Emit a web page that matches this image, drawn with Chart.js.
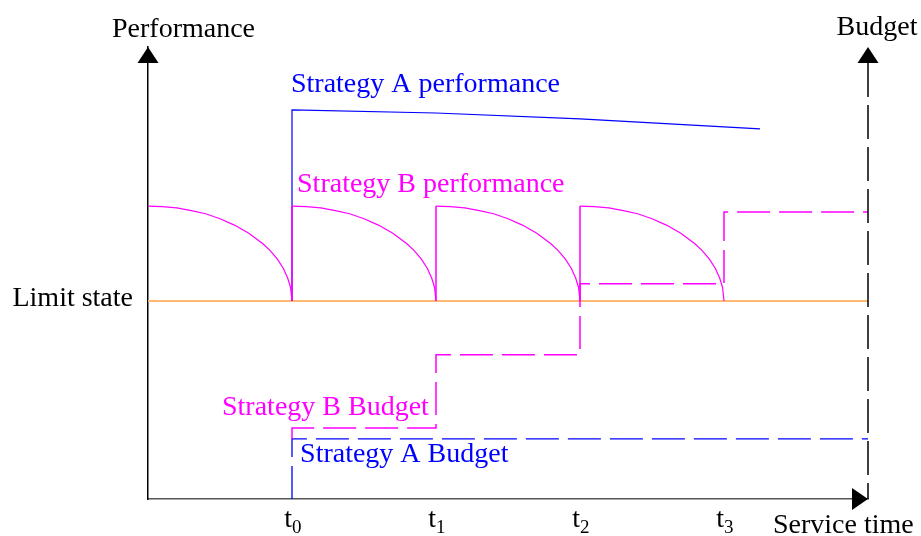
<!DOCTYPE html>
<html>
<head>
<meta charset="utf-8">
<script src="https://cdn.jsdelivr.net/npm/chart.js@4.4.1/dist/chart.umd.min.js"></script>
<style>
html,body{margin:0;padding:0;background:#fff;}
canvas{display:block;}
</style>
</head>
<body>
<canvas id="c" width="921" height="536"></canvas>
<script>
// ---- data ----
const tickValues = [1, 2, 3, 4];
const tickSubs = ['0', '1', '2', '3'];
const tickBase = 't';

const limitX = [0, 5];
const limitY = [43.8, 43.8];

const perfAX = [1, 1, 2, 3, 4.25];
const perfAY = [43.8, 86.1, 85.4, 84.1, 81.9];

const arc0X = [0, 0.1, 0.2, 0.3, 0.4, 0.5, 0.6, 0.7, 0.8, 0.85, 0.9, 0.94, 0.97, 0.99, 1];
const arc1X = [1, 1.1, 1.2, 1.3, 1.4, 1.5, 1.6, 1.7, 1.8, 1.85, 1.9, 1.94, 1.97, 1.99, 2];
const arc2X = [2, 2.1, 2.2, 2.3, 2.4, 2.5, 2.6, 2.7, 2.8, 2.85, 2.9, 2.94, 2.97, 2.99, 3];
const arc3X = [3, 3.1, 3.2, 3.3, 3.4, 3.5, 3.6, 3.7, 3.8, 3.85, 3.9, 3.94, 3.97, 3.99, 4];
const arcY  = [64.8, 64.7, 64.4, 63.8, 63.1, 62.0, 60.6, 58.8, 56.4, 54.9, 53.0, 51.0, 48.9, 46.8, 43.8];

const jumpX = [1, 1, 1, 2, 2, 2, 3, 3];
const jumpY = [43.8, 64.8, null, 43.8, 64.8, null, 43.8, 64.8];

const budgetAX = [1, 1, 5];
const budgetAY = [0, 13.3, 13.3];

const budgetBX = [1, 1, 2, 2, 3, 3, 4, 4, 5];
const budgetBY = [13.3, 15.7, 15.7, 31.9, 31.9, 47.6, 47.6, 63.5, 63.5];

// ---- helpers ----
const pts = (xs, ys) => xs.map((x, i) => ({x: x, y: ys[i]}));
const BLUE = '#0000FF', MAG = '#FF00FF', ORANGE = '#FFB870';
const FONT = '28px "Liberation Serif", "Times New Roman", serif';
const SUBFONT = '19px "Liberation Serif", "Times New Roman", serif';

const annotations = [
  {text: 'Strategy A performance', x: 0.993, y: 90.0, color: BLUE},
  {text: 'Strategy B performance', x: 1.035, y: 67.9, color: MAG},
  {text: 'Strategy B Budget', x: 0.514, y: 18.6, color: MAG},
  {text: 'Strategy A Budget', x: 1.056, y: 8.2, color: BLUE}
];

const decor = {
  id: 'decor',
  afterDraw(chart) {
    const ctx = chart.ctx;
    const xs = chart.scales.x, ys = chart.scales.y, y2 = chart.scales.y2;
    const L = xs.left, R = xs.right, T = ys.top, B = ys.bottom;
    ctx.save();
    // dashed budget axis on the right (y2 scale position)
    ctx.strokeStyle = '#000';
    ctx.lineWidth = 1.5;
    ctx.setLineDash([34, 8]);
    ctx.beginPath();
    ctx.moveTo(y2.left, y2.top + 16);
    ctx.lineTo(y2.left, y2.bottom);
    ctx.stroke();
    ctx.setLineDash([]);

    ctx.fillStyle = '#000';
    // arrowheads
    const up = (cx, tip) => {
      ctx.beginPath();
      ctx.moveTo(cx, tip);
      ctx.lineTo(cx - 10.5, tip + 16);
      ctx.lineTo(cx + 10.5, tip + 16);
      ctx.closePath();
      ctx.fill();
    };
    up(L, T);
    up(y2.left, y2.top);
    ctx.beginPath();
    ctx.moveTo(R, B);
    ctx.lineTo(R - 16, B - 11);
    ctx.lineTo(R - 16, B + 11);
    ctx.closePath();
    ctx.fill();

    // axis titles
    ctx.font = FONT;
    ctx.textBaseline = 'alphabetic';
    ctx.fillStyle = '#000';
    ctx.textAlign = 'left';
    ctx.fillText('Performance', L - 36, T - 10);
    ctx.textAlign = 'center';
    ctx.fillText('Budget', R + 9, T - 12);
    ctx.textAlign = 'left';
    ctx.fillText('Service time', R - 95, B + 34);
    ctx.textAlign = 'right';
    ctx.fillText('Limit state', L - 15, ys.getPixelForValue(limitY[0]) + 5);

    // tick labels t0..t3
    tickValues.forEach((v, i) => {
      const px = xs.getPixelForValue(v);
      ctx.font = FONT;
      ctx.textAlign = 'right';
      ctx.fillText(tickBase, px, B + 28);
      ctx.font = SUBFONT;
      ctx.textAlign = 'left';
      ctx.fillText(tickSubs[i], px, B + 34);
    });

    // annotations
    ctx.font = FONT;
    ctx.textAlign = 'left';
    annotations.forEach(a => {
      ctx.fillStyle = a.color;
      ctx.fillText(a.text, xs.getPixelForValue(a.x), ys.getPixelForValue(a.y));
    });
    ctx.restore();
  }
};

const line = (data, color, width, extra) => Object.assign({
  data: data, borderColor: color, borderWidth: width, pointRadius: 0,
  fill: false, tension: 0, spanGaps: false, xAxisID: 'x', yAxisID: 'y'
}, extra || {});

new Chart(document.getElementById('c'), {
  type: 'line',
  data: {
    datasets: [
      line(pts(arc0X, arcY), MAG, 1.2, {order: 1}),
      line(pts(arc1X, arcY), MAG, 1.2, {order: 1}),
      line(pts(arc2X, arcY), MAG, 1.2, {order: 1}),
      line(pts(arc3X, arcY), MAG, 1.2, {order: 1}),
      line(pts(jumpX, jumpY), MAG, 1.5, {order: 1}),
      line(pts(perfAX, perfAY), BLUE, 1.2, {order: 2}),
      line(pts(budgetBX, budgetBY), MAG, 1.5, {borderDash: [33, 9], yAxisID: 'y2', order: 3}),
      line(pts(budgetAX, budgetAY), BLUE, 1.3, {borderDash: [33, 9], yAxisID: 'y2', order: 4}),
      line(pts(limitX, limitY), ORANGE, 2, {order: 5})
    ]
  },
  options: {
    responsive: false,
    devicePixelRatio: 1,
    animation: false,
    events: [],
    layout: {padding: {left: 148, right: 53, top: 47, bottom: 37}},
    plugins: {legend: {display: false}, tooltip: {enabled: false}},
    scales: {
      x: {type: 'linear', min: 0, max: 5,
          grid: {display: false, drawTicks: false},
          border: {display: true, color: '#555', width: 1.5},
          ticks: {display: false}},
      y: {type: 'linear', position: 'left', min: 0, max: 100,
          grid: {display: false, drawTicks: false},
          border: {display: true, color: '#000', width: 1.5},
          ticks: {display: false}},
      y2: {type: 'linear', position: 'right', min: 0, max: 100,
          grid: {display: false, drawTicks: false},
          border: {display: false},
          ticks: {display: false}}
    }
  },
  plugins: [decor]
});
</script>
</body>
</html>
